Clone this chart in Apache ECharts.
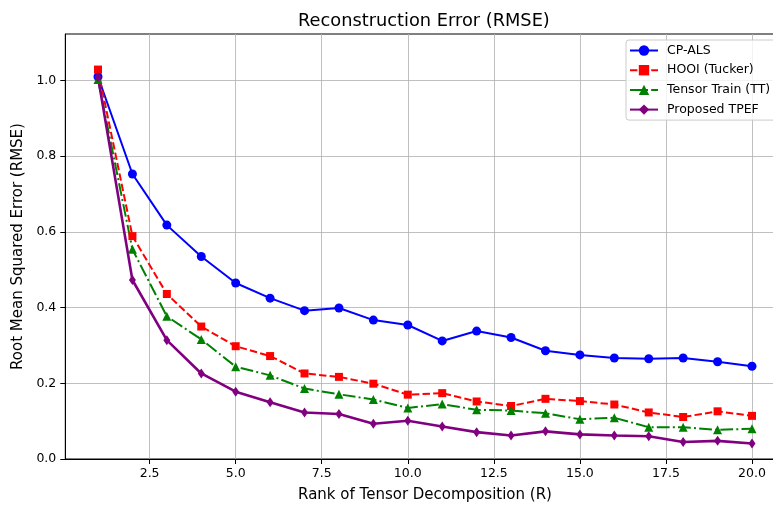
<!DOCTYPE html>
<html>
<head>
    <meta charset="utf-8">
    <script src="https://cdn.jsdelivr.net/npm/echarts@6/dist/echarts.min.js"></script>
    <title>Reconstruction Error</title>
    <style>
        html, body { margin: 0; padding: 0; background: #fff; overflow: hidden; }
        /* the original figure is cropped on the right, so the chart is wider than the window */
        #main { width: 800px; height: 508px; }
    </style>
</head>
<body>
<div id="main"></div>
<script type="text/javascript">
    // data
    var ranks = [1, 2, 3, 4, 5, 6, 7, 8, 9, 10, 11, 12, 13, 14, 15, 16, 17, 18, 19, 20];
    var cpAls = [1.010, 0.753, 0.618, 0.535, 0.465, 0.425, 0.392, 0.399, 0.367, 0.354,
                 0.312, 0.338, 0.321, 0.286, 0.275, 0.267, 0.265, 0.267, 0.257, 0.245];
    var hooi = [1.029, 0.589, 0.436, 0.350, 0.298, 0.272, 0.226, 0.217, 0.199, 0.170,
                0.174, 0.152, 0.140, 0.159, 0.153, 0.144, 0.123, 0.111, 0.126, 0.114];
    var tt = [1.003, 0.554, 0.377, 0.316, 0.244, 0.221, 0.186, 0.171, 0.157, 0.135,
              0.145, 0.130, 0.128, 0.121, 0.105, 0.109, 0.084, 0.084, 0.077, 0.080];
    var tpef = [1.009, 0.473, 0.314, 0.226, 0.178, 0.150, 0.123, 0.119, 0.093, 0.101,
                0.086, 0.071, 0.062, 0.073, 0.065, 0.062, 0.060, 0.045, 0.048, 0.041];
    var xTicks = [2.5, 5.0, 7.5, 10.0, 12.5, 15.0, 17.5, 20.0];
    var yTicks = [0.0, 0.2, 0.4, 0.6, 0.8, 1.0];

    function pairs(ys) {
        var out = [];
        for (var i = 0; i < ranks.length; i++) out.push([ranks[i], ys[i]]);
        return out;
    }

    var font = 'DejaVu Sans';
    var myChart = echarts.init(document.getElementById('main'));

    var option = {
        animation: false,
        backgroundColor: '#fff',
        title: {
            text: 'Reconstruction Error (RMSE)',
            left: 298,
            top: 12,
            padding: 0,
            textStyle: { fontFamily: font, fontSize: 17.8, fontWeight: 'normal', color: '#000' }
        },
        legend: {
            orient: 'vertical',
            left: 626,
            top: 40,
            padding: [4, 8, 4, 3],
            itemWidth: 28,
            itemHeight: 13,
            itemGap: 6.7,
            backgroundColor: 'rgba(255,255,255,0.8)',
            borderColor: '#cccccc',
            borderWidth: 1,
            borderRadius: 3,
            textStyle: { fontFamily: font, fontSize: 12.5, color: '#000', padding: [0, 0, 0, 4] },
            data: ['CP-ALS', 'HOOI (Tucker)', 'Tensor Train (TT)', 'Proposed TPEF']
        },
        grid: {
            left: 65.3,
            width: 719.4,
            top: 34,
            height: 428.5,
            show: true,
            borderColor: '#000',
            borderWidth: 1,
            backgroundColor: 'transparent'
        },
        xAxis: {
            type: 'value',
            min: 0.05,
            max: 20.95,
            name: 'Rank of Tensor Decomposition (R)',
            nameLocation: 'middle',
            nameGap: 29,
            nameTextStyle: { fontFamily: font, fontSize: 15, color: '#000' },
            axisLine: { show: true, lineStyle: { color: '#000', width: 1 } },
            axisTick: { show: true, length: 5, lineStyle: { color: '#000' }, customValues: xTicks },
            axisLabel: {
                customValues: xTicks,
                margin: 8,
                fontFamily: font, fontSize: 12.5, color: '#000',
                formatter: function (v) { return v.toFixed(1); }
            },
            splitLine: { show: true, lineStyle: { color: '#b0b0b0', width: 0.8 } }
        },
        yAxis: {
            type: 'value',
            min: 0,
            max: 1.123,
            name: 'Root Mean Squared Error (RMSE)',
            nameLocation: 'middle',
            nameGap: 35,
            nameTextStyle: { fontFamily: font, fontSize: 15, color: '#000' },
            axisLine: { show: true, lineStyle: { color: '#000', width: 1 } },
            axisTick: { show: true, length: 5, lineStyle: { color: '#000' }, customValues: yTicks },
            axisLabel: {
                customValues: yTicks,
                margin: 9,
                fontFamily: font, fontSize: 12.5, color: '#000',
                formatter: function (v) { return v.toFixed(1); }
            },
            splitLine: { show: true, lineStyle: { color: '#b0b0b0', width: 0.8 } }
        },
        series: [{
            name: 'CP-ALS',
            type: 'line',
            data: pairs(cpAls),
            symbol: 'circle',
            symbolSize: 9,
            itemStyle: { color: '#0000ff' },
            lineStyle: { color: '#0000ff', width: 2 },
            emphasis: { disabled: true }
        }, {
            name: 'HOOI (Tucker)',
            type: 'line',
            data: pairs(hooi),
            symbol: 'rect',
            symbolSize: 8,
            itemStyle: { color: '#ff0000' },
            lineStyle: { color: '#ff0000', width: 2, type: [7.4, 3.2] },
            emphasis: { disabled: true }
        }, {
            name: 'Tensor Train (TT)',
            type: 'line',
            data: pairs(tt),
            symbol: 'triangle',
            symbolSize: 9,
            itemStyle: { color: '#008000' },
            lineStyle: { color: '#008000', width: 2, type: [12.8, 3.2, 2, 3.2] },
            emphasis: { disabled: true }
        }, {
            name: 'Proposed TPEF',
            type: 'line',
            data: pairs(tpef),
            symbol: 'diamond',
            symbolSize: [7, 10],
            itemStyle: { color: '#800080' },
            lineStyle: { color: '#800080', width: 2.6 },
            emphasis: { disabled: true }
        }]
    };
    myChart.setOption(option);
</script>
</body>
</html>
